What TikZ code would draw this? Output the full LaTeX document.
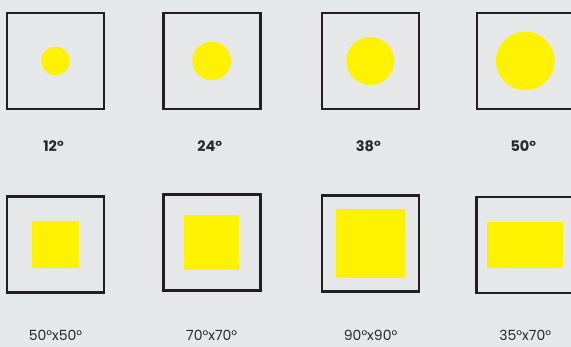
\documentclass[tikz,border=0pt]{standalone}
\usepackage{fontspec}
\setmainfont{Poppins}
\definecolor{bgcol}{HTML}{E6E7E9}
\definecolor{framecol}{HTML}{231F20}
\definecolor{spotcol}{HTML}{FFF200}
\definecolor{textcol}{HTML}{2A2A2A}
\tikzset{
  lampbox/.style={draw=framecol,line width=2.6pt,minimum width=97pt,minimum height=96pt,inner sep=0pt},
  roundspot/.style={circle,fill=spotcol,inner sep=0pt,minimum size=#1},
  squarespot/.style={fill=spotcol,inner sep=0pt},
  anglelab/.style={text=textcol,font=\fontsize{14}{16}\selectfont,inner sep=0pt}
}
\begin{document}
\begin{tikzpicture}[x=1pt,y=-1pt]
\fill[bgcol] (0,0) rectangle (571,347);
\useasboundingbox (0,0) rectangle (571,347);
\clip (0,0) rectangle (571,347);
% round beams
\foreach \n/\x/\d/\lab in {1/55.5/28.6/12,2/211.7/38.6/24,3/370.3/48/38,4/525.3/58.6/50}{
\node[lampbox] (box\n) at (\x,61) {};
\node[roundspot=\d pt] (spot\n) at (box\n.center) {};
\node[anglelab,font=\fontsize{14.5}{16}\selectfont\bfseries] (lab\n) at (\x-2,146) {\lab°};}
% square beams
\foreach \n/\x/\y/\w/\h/\lab in {5/55.5/244.5/47.3/46.4/50°x50°,6/211.7/242.3/55/54.7/70°x70°,
  7/370.6/243.5/69/68.7/90°x90°,8/525.2/245/75.7/46.4/35°x70°}{
\node[lampbox] (box\n) at (\x,\y) {};
\node[squarespot,minimum width=\w pt,minimum height=\h pt] (spot\n) at (box\n.center) {};
\node[anglelab] (lab\n) at (\x,335) {\lab};}
\end{tikzpicture}
\end{document}
